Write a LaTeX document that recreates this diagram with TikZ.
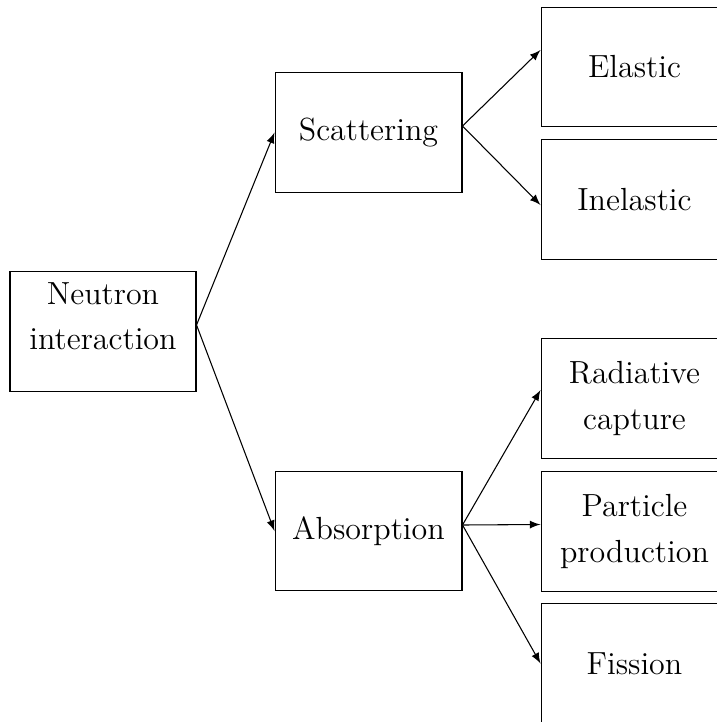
\documentclass[tikz,border=0pt]{standalone}
\usetikzlibrary{calc,arrows}
\begin{document}
\begin{tikzpicture}[x=0.375pt,y=-0.375pt,
  box/.style={draw,line width=0.4pt,minimum width=70.1pt,minimum height=44.7pt,inner sep=0pt,align=center,font=\fontsize{12}{17.2}\selectfont},
  txt/.style={inner sep=0pt,align=center,font=\fontsize{12}{17}\selectfont},
  conn/.style={-latex,line width=0.4pt}]
\useasboundingbox (0,0) rectangle (717,722);
\node[box,minimum width=69.75pt] (neut) at (103,331.5) {};
\node[txt] (neuttext) at (103,316) {Neutron\\interaction};
\node[box] (scat) at (368.5,132.5) {Scattering};
\node[box] (abs) at (368.5,531) {Absorption};
\node[box] (el) at (634.5,67) {Elastic};
\node[box] (inel) at (634.5,199.5) {Inelastic};
\node[box] (rad) at (634.5,398.5) {Radiative\\capture};
\node[box] (part) at (634.5,531.5) {Particle\\production};
\node[box] (fis) at (634.5,663.5) {Fission};
\draw[conn] ($(neut.east)+(0,-6.5)$) -- (scat.west);
\draw[conn] ($(neut.east)+(0,-6.5)$) -- (abs.west);
\draw[conn] ($(scat.east)+(0,-6.5)$) -- ($(el.west)+(0,-17)$);
\draw[conn] ($(scat.east)+(0,-6.5)$) -- ($(inel.west)+(0,5.5)$);
\draw[conn] ($(abs.east)+(0,-6)$) -- ($(rad.west)+(0,-8.5)$);
\draw[conn] ($(abs.east)+(0,-6)$) -- ($(part.west)+(0,-7)$);
\draw[conn] ($(abs.east)+(0,-6)$) -- (fis.west);
\end{tikzpicture}
\end{document}
